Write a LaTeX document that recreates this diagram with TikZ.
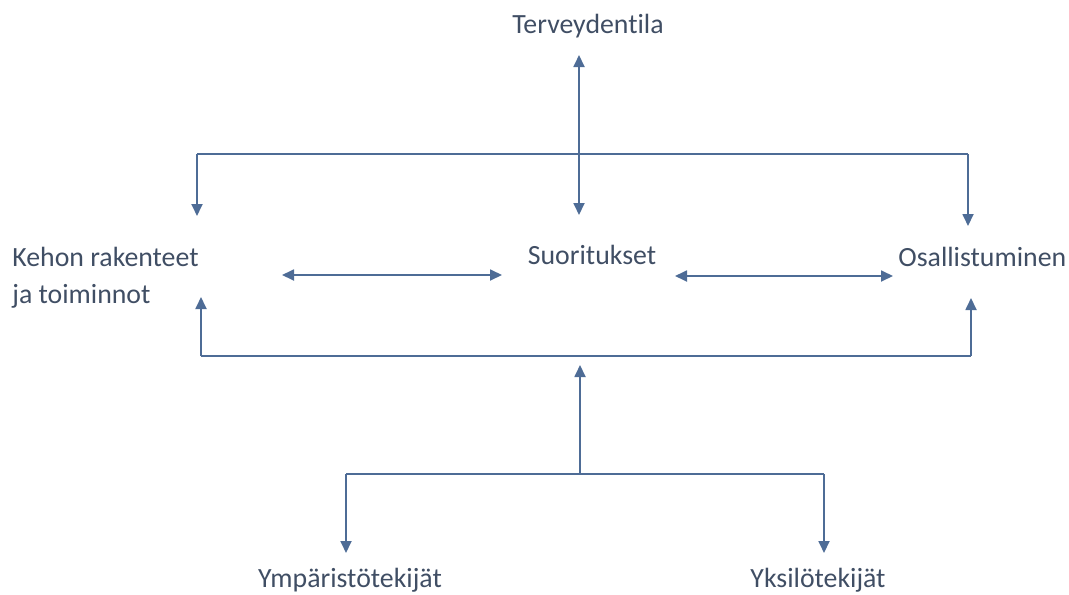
\documentclass[tikz,border=0pt]{standalone}
\usepackage{fontspec}
\setmainfont[Ligatures={NoCommon}]{Carlito}
\usetikzlibrary{arrows.meta}
\definecolor{icftext}{RGB}{64,78,100}
\definecolor{icfline}{RGB}{78,108,150}
\begin{document}
\begin{tikzpicture}[x=0.5pt,y=-0.5pt]
		\tikzset{term/.style = {inner sep=0pt, text=icftext, font=\fontsize{13.9}{18.5}\selectfont},
			link/.style = {draw=icfline, line width=0.9pt},
			tip/.style = {-{Triangle[length=6pt,width=5.5pt]}, link},
			both/.style = {{Triangle[length=6pt,width=5.5pt]}-{Triangle[length=6pt,width=5.5pt]}, link}}

		\useasboundingbox (0,0) rectangle (1069,594);

		\node[term, anchor=base] (T) at (588,33) {Terveydentila};
		\node[term, anchor=north west, align=left] (K) at (12,247) {Kehon rakenteet\\ja toiminnot};
		\node[term, anchor=base] (S) at (592,264) {Suoritukset};
		\node[term, anchor=base west] (O) at (898,266) {Osallistuminen};
		\node[term, anchor=base] (Y_1) at (350,587) {Ympäristötekijät};
		\node[term, anchor=base] (Y_2) at (818,587) {Yksilötekijät};

		\coordinate (T_1) at (579,55);
		\coordinate (T_2) at (579,215);
		\coordinate (A_1) at (197,154);
		\coordinate (A_2) at (968,154);
		\coordinate (A_3) at (197,216);
		\coordinate (A_4) at (968,226);
		\coordinate (M_1) at (282,275);
		\coordinate (M_2) at (502,275);
		\coordinate (M_3) at (675,276);
		\coordinate (M_4) at (893,276);
		\coordinate (B_1) at (201,356);
		\coordinate (B_2) at (971,356);
		\coordinate (B_3) at (201,297);
		\coordinate (B_4) at (971,298);
		\coordinate (C_1) at (580,474);
		\coordinate (C_2) at (580,365);
		\coordinate (D_1) at (346,474);
		\coordinate (D_2) at (824,474);
		\coordinate (D_3) at (346,553);
		\coordinate (D_4) at (824,553);



		\draw[both] (T_1)--(T_2);
		\draw[link] (A_1)--(A_2);
		\draw[tip] (A_1)--(A_3);
		\draw[tip] (A_2)--(A_4);

		\draw[both] (M_1)--(M_2);
		\draw[both] (M_3)--(M_4);

		\draw[link] (B_1)--(B_2);
		\draw[tip] (B_1)--(B_3);
		\draw[tip] (B_2)--(B_4);
		\draw[tip] (C_1)--(C_2);

		\draw[link] (D_1)--(D_2);
		\draw[tip] (D_1)--(D_3);
		\draw[tip] (D_2)--(D_4);

	\end{tikzpicture}
\end{document}
